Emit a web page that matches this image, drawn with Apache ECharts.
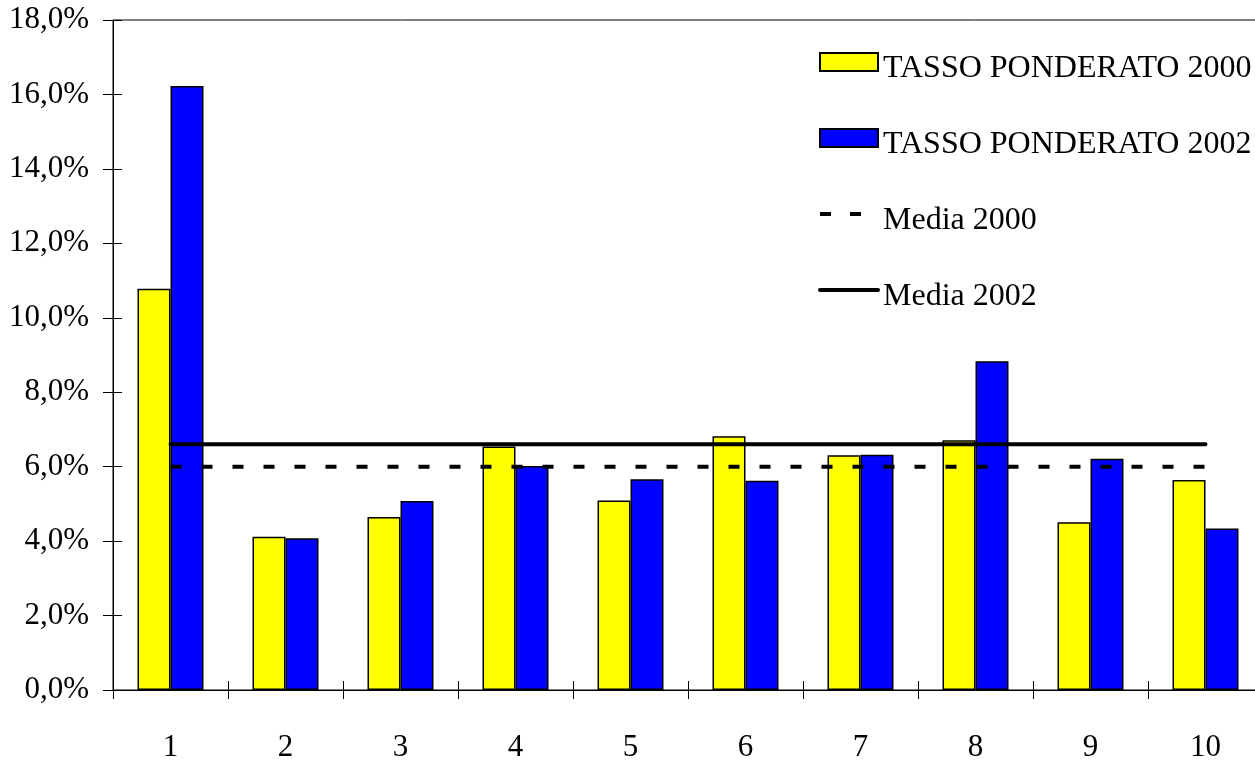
<!DOCTYPE html>
<html>
<head>
<meta charset="utf-8">
<script src="https://cdn.jsdelivr.net/npm/echarts@6/dist/echarts.min.js"></script>
<style>
html,body{margin:0;padding:0;background:#fff;overflow:hidden;}
#chart{width:1275px;height:760px;}
</style>
</head>
<body>
<div id="chart"></div>
<script>
const categories = ['1','2','3','4','5','6','7','8','9','10'];
const tasso2000 = [10.78, 4.12, 4.65, 6.54, 5.09, 6.82, 6.31, 6.71, 4.51, 5.64];
const tasso2002 = [16.23, 4.08, 5.08, 6.02, 5.66, 5.62, 6.32, 8.83, 6.21, 4.34];
const media2000 = [6.0, 6.0, 6.0, 6.0, 6.0, 6.0, 6.0, 6.0, 6.0, 6.0];
const media2002 = [6.6, 6.6, 6.6, 6.6, 6.6, 6.6, 6.6, 6.6, 6.6, 6.6];
const seriesNames = ['TASSO PONDERATO 2000', 'TASSO PONDERATO 2002', 'Media 2000', 'Media 2002'];

const FONT = '"Liberation Serif", "Times New Roman", serif';
const chart = echarts.init(document.getElementById('chart'), null, {renderer: 'canvas'});
const fmt = v => v.toFixed(1).replace('.', ',') + '%';

chart.setOption({
  animation: false,
  backgroundColor: '#fff',
  grid: {left: 113, top: 20, width: 1150, height: 670, outerBoundsMode: 'none', containLabel: false,
         show: true, borderColor: '#000', borderWidth: 1, backgroundColor: 'transparent'},
  legend: {
    orient: 'vertical',
    left: 818, top: 39, padding: 0,
    itemWidth: 58, itemHeight: 18, itemGap: 30,
    formatter: name => '{t|' + name + '}',
    textStyle: {
      fontFamily: FONT, fontSize: 32, color: '#000',
      rich: {t: {fontFamily: FONT, fontSize: 32, color: '#000', lineHeight: 30, padding: [14, 0, 0, 0]}}
    },
    data: [
      {name: seriesNames[0], icon: 'rect'},
      {name: seriesNames[1], icon: 'rect'},
      {name: seriesNames[2], itemStyle: {opacity: 0}, lineStyle: {width: 4, type: [11, 19], color: '#000'}},
      {name: seriesNames[3], itemStyle: {opacity: 0}, lineStyle: {width: 4, type: 'solid', color: '#000', cap: 'round'}}
    ]
  },
  xAxis: [
    {
      type: 'category', data: categories, position: 'bottom',
      axisLine: {show: true, lineStyle: {color: '#000', width: 1}},
      axisTick: {show: true, inside: false, length: 9, lineStyle: {color: '#000'}},
      axisLabel: {fontFamily: FONT, fontSize: 31, color: '#000', margin: 42},
      splitLine: {show: false}
    },
    {
      type: 'category', data: categories, position: 'bottom',
      axisLine: {show: false},
      axisTick: {show: true, inside: true, length: 9, lineStyle: {color: '#000'}},
      axisLabel: {show: false},
      splitLine: {show: false}
    }
  ],
  yAxis: [
    {
      type: 'value', min: 0, max: 18, interval: 2, position: 'left',
      axisLine: {show: true, lineStyle: {color: '#000', width: 1}},
      axisTick: {show: true, inside: false, length: 10, lineStyle: {color: '#000'}},
      axisLabel: {fontFamily: FONT, fontSize: 31, color: '#000', margin: 24, formatter: fmt},
      splitLine: {show: false}
    },
    {
      type: 'value', min: 0, max: 18, interval: 2, position: 'left',
      axisLine: {show: false},
      axisTick: {show: true, inside: true, length: 9, lineStyle: {color: '#000'}},
      axisLabel: {show: false},
      splitLine: {show: false}
    }
  ],
  series: [
    {
      name: seriesNames[0], type: 'bar', data: tasso2000, barWidth: 33, barGap: '0%',
      itemStyle: {color: '#FFFF00', borderColor: '#000', borderWidth: 1.5}, z: 2
    },
    {
      name: seriesNames[1], type: 'bar', data: tasso2002, barWidth: 33, barGap: '0%',
      itemStyle: {color: '#0000FF', borderColor: '#000', borderWidth: 1.5}, z: 2
    },
    {
      name: seriesNames[2], type: 'line', data: media2000, symbol: 'none',
      lineStyle: {color: '#000', width: 4, type: [11, 20], cap: 'butt'},
      itemStyle: {color: '#000'}, z: 3
    },
    {
      name: seriesNames[3], type: 'line', data: media2002, symbol: 'none',
      lineStyle: {color: '#000', width: 4, type: 'solid', cap: 'round'},
      itemStyle: {color: '#000'}, z: 3
    }
  ]
});
</script>
</body>
</html>
